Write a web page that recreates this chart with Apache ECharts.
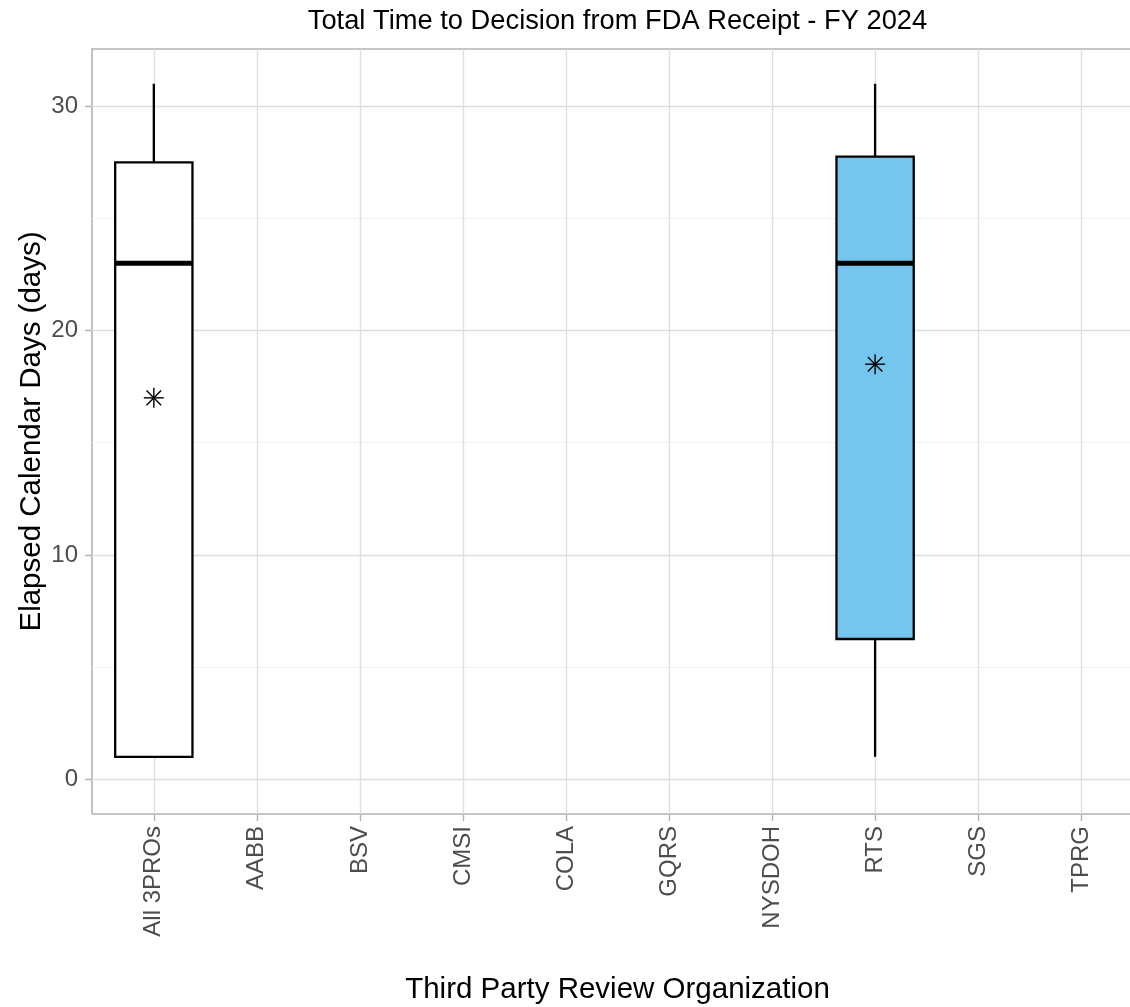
<!DOCTYPE html>
<html>
<head>
<meta charset="utf-8">
<script src="https://cdn.jsdelivr.net/npm/echarts@6/dist/echarts.min.js"></script>
<style>
html, body { margin: 0; padding: 0; overflow: hidden; background: #fff; }
#chart { width: 1143px; height: 1007px; }
</style>
</head>
<body>
<div id="chart"></div>
<script>
// ---- Data ----
const categories = ['All 3PROs', 'AABB', 'BSV', 'CMSI', 'COLA', 'GQRS', 'NYSDOH', 'RTS', 'SGS', 'TPRG'];
const boxCategories = ['All 3PROs', 'RTS'];
const whiskerLow = [1, 1];
const quartile1 = [1, 6.25];
const medians = [23, 23];
const quartile3 = [27.5, 27.75];
const whiskerHigh = [31, 31];
const means = [17, 18.5];
const yMajorTicks = [0, 10, 20, 30];
const yMinorTicks = [5, 15, 25];

// ---- Styles ----
const boxFill = { 'All 3PROs': '#FFFFFF', 'RTS': '#75C6EE' };
const FONT = 'Liberation Sans, Arial, sans-serif';

const boxData = boxCategories.map((c, i) => [
  categories.indexOf(c), whiskerLow[i], quartile1[i], medians[i], quartile3[i], whiskerHigh[i], means[i]
]);

function renderBox(params, api) {
  const x = api.value(0);
  const lo = api.coord([x, api.value(1)]);
  const q1 = api.coord([x, api.value(2)]);
  const md = api.coord([x, api.value(3)]);
  const q3 = api.coord([x, api.value(4)]);
  const hi = api.coord([x, api.value(5)]);
  const mn = api.coord([x, api.value(6)]);
  const halfW = api.size([0.75, 0])[0] / 2;
  const cx = md[0];
  const fill = boxFill[boxCategories[params.dataIndex]];
  const lineStyle = { stroke: '#000', lineWidth: 2.3, fill: null };
  const r = 10, d = 7.3;
  const star = { stroke: '#000', lineWidth: 1.4 };
  return {
    type: 'group',
    children: [
      { type: 'line', shape: { x1: cx, y1: hi[1], x2: cx, y2: q3[1] }, style: lineStyle },
      { type: 'line', shape: { x1: cx, y1: q1[1], x2: cx, y2: lo[1] }, style: lineStyle },
      { type: 'rect', shape: { x: cx - halfW, y: q3[1], width: halfW * 2, height: q1[1] - q3[1] },
        style: { fill: fill, stroke: '#000', lineWidth: 2.3 } },
      { type: 'line', shape: { x1: cx - halfW, y1: md[1], x2: cx + halfW, y2: md[1] },
        style: { stroke: '#000', lineWidth: 4.8 } },
      { type: 'line', shape: { x1: mn[0], y1: mn[1] - r, x2: mn[0], y2: mn[1] + r }, style: star },
      { type: 'line', shape: { x1: mn[0] - r, y1: mn[1], x2: mn[0] + r, y2: mn[1] }, style: star },
      { type: 'line', shape: { x1: mn[0] - d, y1: mn[1] - d, x2: mn[0] + d, y2: mn[1] + d }, style: star },
      { type: 'line', shape: { x1: mn[0] - d, y1: mn[1] + d, x2: mn[0] + d, y2: mn[1] - d }, style: star }
    ]
  };
}

const chart = echarts.init(document.getElementById('chart'), null, { renderer: 'canvas' });
const catIdx = categories.map((c, i) => i);

chart.setOption({
  animation: false,
  backgroundColor: '#fff',
  title: {
    text: 'Total Time to Decision from FDA Receipt - FY 2024',
    left: 617.5, top: 8, textAlign: 'center', padding: 0,
    textStyle: { fontFamily: FONT, fontSize: 27.3, fontWeight: 'normal', color: '#000' }
  },
  grid: {
    left: 92, right: 0, top: 49, bottom: 193,
    outerBoundsMode: 'none', containLabel: false,
    show: true, borderColor: '#B3B3B3', borderWidth: 1.6, backgroundColor: '#fff'
  },
  xAxis: {
    type: 'value', min: -0.6, max: 9.6,
    name: 'Third Party Review Organization',
    nameLocation: 'middle', nameGap: 161, nameMoveOverlap: false,
    nameTextStyle: { fontFamily: FONT, fontSize: 29.5, color: '#000' },
    axisLine: { show: false, onZero: false },
    axisTick: { show: true, customValues: catIdx, length: 7, lineStyle: { color: '#B3B3B3', width: 1.4 } },
    axisLabel: {
      customValues: catIdx, rotate: 90, margin: 12,
      fontFamily: FONT, fontSize: 24, color: '#4D4D4D',
      formatter: v => categories[Math.round(v)]
    },
    splitLine: { show: true, customValues: catIdx, lineStyle: { color: '#DEDEDE', width: 1.4 } }
  },
  yAxis: [{
    type: 'value', min: -1.55, max: 32.55,
    name: 'Elapsed Calendar Days (days)',
    nameLocation: 'middle', nameGap: 45, nameMoveOverlap: false,
    nameTextStyle: { fontFamily: FONT, fontSize: 29.5, color: '#000' },
    axisLine: { show: false, onZero: false },
    axisTick: { show: true, customValues: yMajorTicks, length: 7, lineStyle: { color: '#B3B3B3', width: 1.4 } },
    axisLabel: { customValues: yMajorTicks, margin: 14, fontFamily: FONT, fontSize: 24, color: '#4D4D4D' },
    splitLine: { show: true, customValues: yMajorTicks, lineStyle: { color: '#DEDEDE', width: 1.4 } }
  }, {
    type: 'value', min: -1.55, max: 32.55, position: 'left',
    axisLine: { show: false, onZero: false },
    axisTick: { show: false, customValues: yMinorTicks },
    axisLabel: { show: false, customValues: yMinorTicks },
    splitLine: { show: true, customValues: yMinorTicks, lineStyle: { color: '#EDEDED', width: 0.8 } }
  }],
  series: [{
    type: 'custom',
    renderItem: renderBox,
    data: boxData,
    encode: { x: 0, y: [1, 2, 3, 4, 5, 6] },
    clip: false,
    z: 10
  }]
});
</script>
</body>
</html>
